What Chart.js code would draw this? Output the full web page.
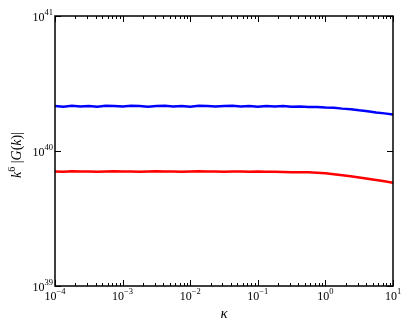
<!DOCTYPE html>
<html>
<head>
<meta charset="utf-8">
<script src="https://cdn.jsdelivr.net/npm/chart.js@4/dist/chart.umd.min.js"></script>
<style>
  html, body { margin: 0; padding: 0; background: #fff; }
  #wrap { width: 409px; height: 327px; }
</style>
</head>
<body>
<div id="wrap"><canvas id="chart"></canvas></div>
<script>
// kappa sample points, log10 spaced by 1/8 decade from 1e-4 to 1e1
const kappaExp = [-4, -3.875, -3.75, -3.625, -3.5, -3.375, -3.25, -3.125, -3, -2.875, -2.75, -2.625,
    -2.5, -2.375, -2.25, -2.125, -2, -1.875, -1.75, -1.625, -1.5, -1.375, -1.25, -1.125, -1,
    -0.875, -0.75, -0.625, -0.5, -0.375, -0.25, -0.125, 0, 0.125, 0.25, 0.375, 0.5, 0.625, 0.75, 0.875, 1];

// upper curve, in units of 1e40
const blueVals = [2.15, 2.13, 2.16, 2.14, 2.15, 2.13, 2.16, 2.15, 2.14, 2.16, 2.15, 2.13,
    2.15, 2.16, 2.14, 2.15, 2.13, 2.16, 2.15, 2.14, 2.15, 2.16, 2.14, 2.15, 2.13,
    2.15, 2.14, 2.15, 2.13, 2.14, 2.12, 2.12, 2.10, 2.09, 2.06, 2.04, 2.00, 1.97, 1.93, 1.90, 1.86];

// lower curve, in units of 1e39
const redVals = [7.05, 7.02, 7.07, 7.04, 7.06, 7.03, 7.05, 7.08, 7.04, 7.06, 7.03, 7.05,
    7.07, 7.04, 7.06, 7.02, 7.05, 7.07, 7.04, 7.05, 7.03, 7.06, 7.04, 7.02, 7.05,
    7.01, 7.03, 6.99, 6.97, 6.95, 6.95, 6.90, 6.83, 6.73, 6.62, 6.50, 6.37, 6.24, 6.10, 5.96, 5.82];

const xTickExp = [-4, -3, -2, -1, 0, 1];
const yTickExp = [39, 40, 41];

const blueData = kappaExp.map((e, i) => ({ x: Math.pow(10, e), y: blueVals[i] * 1e40 }));
const redData = kappaExp.map((e, i) => ({ x: Math.pow(10, e), y: redVals[i] * 1e39 }));

const SERIF = '"Liberation Serif", "DejaVu Serif", serif';

// writes 10^exp with a raised small exponent
function drawPow(ctx, exp, x, y, align) {
    const base = '10';
    const sup = exp < 0 ? '\u2212' + Math.abs(exp) : String(exp);
    ctx.font = '12px ' + SERIF;
    const wb = ctx.measureText(base).width;
    ctx.font = '8.5px ' + SERIF;
    const ws = ctx.measureText(sup).width;
    let x0 = x;
    if (align === 'center') x0 = x - (wb + ws) / 2;
    if (align === 'right') x0 = x - (wb + ws);
    ctx.textAlign = 'left';
    ctx.textBaseline = 'alphabetic';
    ctx.font = '12px ' + SERIF;
    ctx.fillText(base, x0, y);
    ctx.font = '8.5px ' + SERIF;
    ctx.fillText(sup, x0 + wb, y - 6);
}

const axesPlugin = {
    id: 'mplAxes',
    afterDatasetsDraw(chart) {
        const ctx = chart.ctx;
        const a = chart.chartArea;
        const xs = chart.scales.x;
        const ys = chart.scales.y;
        ctx.save();

        // ticks pointing inward
        ctx.strokeStyle = '#000';
        ctx.lineWidth = 1;
        ctx.beginPath();
        for (let d = -4; d <= 1; d++) {
            for (let m = 1; m <= 9; m++) {
                const v = m * Math.pow(10, d);
                if (v > 10 || (d === 1 && m > 1)) continue;
                const px = Math.round(xs.getPixelForValue(v)) + 0.5;
                const len = m === 1 ? 6 : 3;
                ctx.moveTo(px, a.bottom);
                ctx.lineTo(px, a.bottom - len);
                ctx.moveTo(px, a.top);
                ctx.lineTo(px, a.top + len);
            }
        }
        yTickExp.forEach(e => {
            const py = Math.round(ys.getPixelForValue(Math.pow(10, e))) + 0.5;
            ctx.moveTo(a.left, py);
            ctx.lineTo(a.left + 6, py);
            ctx.moveTo(a.right, py);
            ctx.lineTo(a.right - 6, py);
        });
        ctx.stroke();

        // frame
        ctx.lineWidth = 1.5;
        ctx.strokeRect(a.left, a.top, a.right - a.left, a.bottom - a.top);

        // tick labels
        ctx.fillStyle = '#000';
        xTickExp.forEach(e => {
            drawPow(ctx, e, xs.getPixelForValue(Math.pow(10, e)), a.bottom + 14, 'center');
        });
        yTickExp.forEach(e => {
            drawPow(ctx, e, a.left - 2, ys.getPixelForValue(Math.pow(10, e)) + 5, 'right');
        });

        // axis titles
        ctx.font = 'italic 15px ' + SERIF;
        ctx.textAlign = 'center';
        ctx.textBaseline = 'middle';
        ctx.fillText('\u03BA', (a.left + a.right) / 2, a.bottom + 28);

        ctx.translate(17, (a.top + a.bottom) / 2 + 4);
        ctx.rotate(-Math.PI / 2);
        ctx.textAlign = 'left';
        ctx.textBaseline = 'middle';
        const parts = [
            ['italic 14px ', 'k', 0],
            ['10px ', '6', -5],
            ['14px ', ' |', 0],
            ['italic 14px ', 'G', 0],
            ['14px ', '(', 0],
            ['italic 14px ', 'k', 0],
            ['14px ', ')|', 0]
        ];
        let total = 0;
        parts.forEach(p => { ctx.font = p[0] + SERIF; total += ctx.measureText(p[1]).width; });
        let cx = -total / 2;
        parts.forEach(p => {
            ctx.font = p[0] + SERIF;
            ctx.fillText(p[1], cx, p[2]);
            cx += ctx.measureText(p[1]).width;
        });
        ctx.restore();
    }
};

new Chart(document.getElementById('chart'), {
    type: 'line',
    data: {
        datasets: [
            {
                label: 'blue',
                data: blueData,
                borderColor: '#0000ff',
                borderWidth: 2.5,
                pointRadius: 0,
                fill: false,
                tension: 0
            },
            {
                label: 'red',
                data: redData,
                borderColor: '#ff0000',
                borderWidth: 2.5,
                pointRadius: 0,
                fill: false,
                tension: 0
            }
        ]
    },
    options: {
        responsive: true,
        maintainAspectRatio: false,
        animation: false,
        layout: { padding: { left: 0, top: 16, right: 16, bottom: 0 } },
        plugins: {
            legend: { display: false },
            tooltip: { enabled: false }
        },
        scales: {
            x: {
                type: 'logarithmic',
                min: 1e-4,
                max: 10,
                grid: { display: false },
                border: { display: false },
                ticks: { display: false },
                afterFit(scale) { scale.height = 41; }
            },
            y: {
                type: 'logarithmic',
                min: 1e39,
                max: 1e41,
                grid: { display: false },
                border: { display: false },
                ticks: { display: false },
                afterFit(scale) { scale.width = 55; }
            }
        }
    },
    plugins: [axesPlugin]
});
</script>
</body>
</html>
